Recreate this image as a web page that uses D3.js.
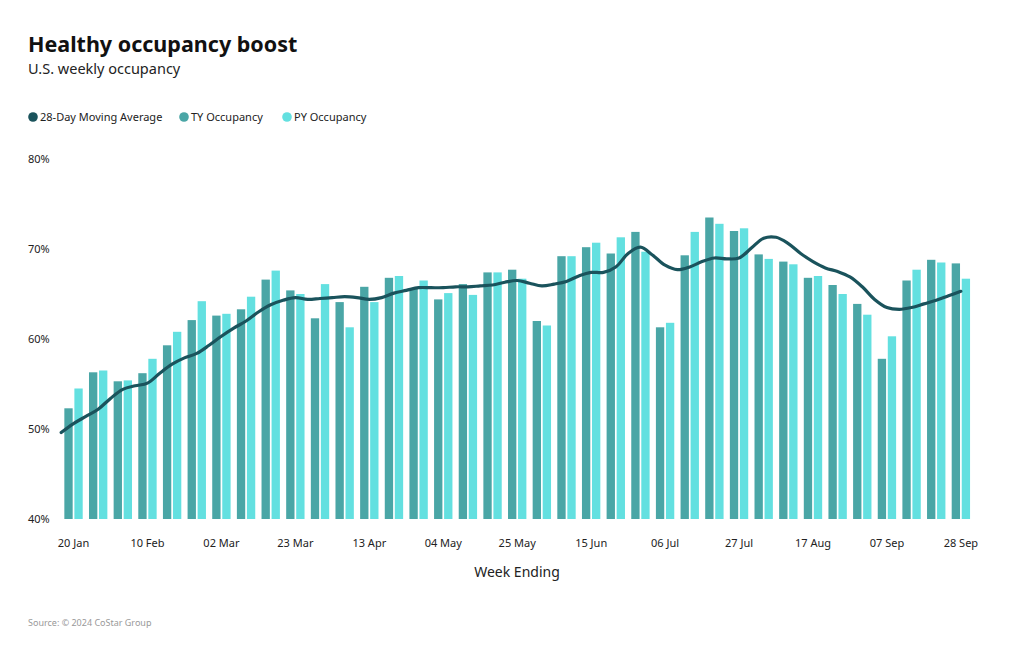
<!DOCTYPE html>
<html>
<head>
<meta charset="utf-8">
<script src="https://cdn.jsdelivr.net/npm/d3@7"></script>
<style>
  body { margin: 0; background: #fff; }
  svg { display: block; font-family: "Noto Sans", "Open Sans", sans-serif; }
</style>
</head>
<body>
<svg id="chart" width="1020" height="650"></svg>
<script>
const weeks = ["20 Jan","27 Jan","03 Feb","10 Feb","17 Feb","24 Feb","02 Mar","09 Mar","16 Mar","23 Mar","30 Mar","06 Apr","13 Apr","20 Apr","27 Apr","04 May","11 May","18 May","25 May","01 Jun","08 Jun","15 Jun","22 Jun","29 Jun","06 Jul","13 Jul","20 Jul","27 Jul","03 Aug","10 Aug","17 Aug","24 Aug","31 Aug","07 Sep","14 Sep","21 Sep","28 Sep"];
const tickLabels = ["20 Jan","10 Feb","02 Mar","23 Mar","13 Apr","04 May","25 May","15 Jun","06 Jul","27 Jul","17 Aug","07 Sep","28 Sep"];
const tyOccupancy = [52.3,56.3,55.3,56.2,59.3,62.1,62.6,63.3,66.6,65.4,62.3,64.1,65.8,66.8,65.6,64.4,66.1,67.4,67.7,62.0,69.2,70.2,69.5,71.9,61.3,69.3,73.5,72.0,69.4,68.6,66.8,66.0,63.9,57.8,66.5,68.8,68.4];
const pyOccupancy = [54.5,56.5,55.4,57.8,60.8,64.2,62.8,64.7,67.6,65.0,66.1,61.3,64.1,67.0,66.5,65.1,64.9,67.4,66.7,61.5,69.2,70.7,71.3,69.7,61.8,71.9,72.8,72.3,68.9,68.3,67.0,65.0,62.7,60.3,67.7,68.5,66.7];
// 28-day moving average, sampled every half week from half a week before 20 Jan to 28 Sep
const movingAvgStep = [-0.5,0,0.5,1,1.5,2,2.5,3,3.5,4,4.5,5,5.5,6,6.5,7,7.5,8,8.5,9,9.5,10,10.5,11,11.5,12,12.5,13,13.5,14,14.5,15,15.5,16,16.5,17,17.5,18,18.5,19,19.5,20,20.5,21,21.5,22,22.5,23,23.5,24,24.5,25,25.5,26,26.5,27,27.5,28,28.5,29,29.5,30,30.5,31,31.5,32,32.5,33,33.5,34,34.5,35,35.5,36];
const movingAvg = [49.6,50.6,51.4,52.2,53.4,54.4,54.8,55.1,56.2,57.2,57.9,58.4,59.3,60.3,61.2,62.0,63.0,63.8,64.3,64.6,64.4,64.5,64.6,64.7,64.6,64.4,64.6,65.1,65.4,65.7,65.7,65.7,65.8,65.8,65.9,66.0,66.3,66.5,66.2,65.9,66.1,66.4,67.0,67.4,67.4,68.0,69.5,70.2,69.3,68.2,67.7,68.0,68.6,69.0,68.9,69.0,70.1,71.2,71.3,70.6,69.5,68.6,67.9,67.5,66.9,65.8,64.4,63.5,63.3,63.5,63.9,64.3,64.8,65.3];
const yTicks = [40,50,60,70,80];
const seriesNames = ["28-Day Moving Average","TY Occupancy","PY Occupancy"];
const colors = ["#1a535c","#4aa6a6","#63e0e0"];

const svg = d3.select("#chart");

// Titles
svg.append("text").attr("x",28).attr("y",52).attr("font-size",21.5).attr("font-weight",700)
  .attr("fill","#111").text("Healthy occupancy boost");
svg.append("text").attr("x",28).attr("y",74).attr("font-size",14.5).attr("fill","#222")
  .text("U.S. weekly occupancy");

// Legend
const legendX = [28, 179, 282];
const lg = svg.append("g");
seriesNames.forEach((n,i)=>{
  lg.append("circle").attr("cx",legendX[i]+5).attr("cy",117).attr("r",4.8).attr("fill",colors[i]);
  lg.append("text").attr("x",legendX[i]+12).attr("y",121).attr("font-size",11).attr("fill","#222").text(n);
});

const x = d3.scaleBand().domain(weeks).range([61.2, 973.2]).paddingInner(0.255).paddingOuter(0.1275);
const xSub = d3.scaleBand().domain(["TY","PY"]).range([0, x.bandwidth()]).paddingInner(0.17);
const y = d3.scaleLinear().domain([40,80]).range([519,159]);
const step = x.step();
const c0 = x(weeks[0]) + x.bandwidth()/2;
const xPos = t => c0 + t*step;

// Bars
const g = svg.append("g");
g.selectAll("rect.ty").data(weeks).join("rect").attr("class","ty")
  .attr("x",(d)=>x(d)+xSub("TY")).attr("width",xSub.bandwidth())
  .attr("y",(d,i)=>y(tyOccupancy[i])).attr("height",(d,i)=>y(40)-y(tyOccupancy[i]))
  .attr("fill",colors[1]);
g.selectAll("rect.py").data(weeks).join("rect").attr("class","py")
  .attr("x",(d)=>x(d)+xSub("PY")).attr("width",xSub.bandwidth())
  .attr("y",(d,i)=>y(pyOccupancy[i])).attr("height",(d,i)=>y(40)-y(pyOccupancy[i]))
  .attr("fill",colors[2]);

// Moving average line
const line = d3.line().x((d,i)=>xPos(movingAvgStep[i])).y(d=>y(d)).curve(d3.curveCatmullRom.alpha(0.5));
svg.append("path").datum(movingAvg).attr("d",line).attr("fill","none")
  .attr("stroke",colors[0]).attr("stroke-width",3.2).attr("stroke-linecap","round");

// Y axis labels
const yAxis = d3.axisLeft(y).tickValues(yTicks).tickFormat(d=>d+"%").tickSize(0);
const ya = svg.append("g").attr("transform","translate(28,0)").call(yAxis);
ya.select(".domain").remove();
ya.selectAll("text").attr("text-anchor","start").attr("x",0).attr("dy","0.32em")
  .attr("font-size",11).attr("fill","#222").attr("font-family","'Noto Sans', sans-serif");

// X axis labels
const xAxis = d3.axisBottom(x).tickValues(tickLabels).tickSize(0);
const xa = svg.append("g").attr("transform","translate(0,519)").call(xAxis);
xa.select(".domain").remove();
xa.selectAll("text").attr("y",28).attr("dy",0).attr("font-size",11).attr("fill","#222")
  .attr("font-family","'Noto Sans', sans-serif");

svg.append("text").attr("x",517).attr("y",577).attr("text-anchor","middle").attr("font-size",14)
  .attr("fill","#222").text("Week Ending");

svg.append("text").attr("x",28).attr("y",626).attr("font-size",9).attr("fill","#999")
  .text("Source: © 2024 CoStar Group");
</script>
</body>
</html>
